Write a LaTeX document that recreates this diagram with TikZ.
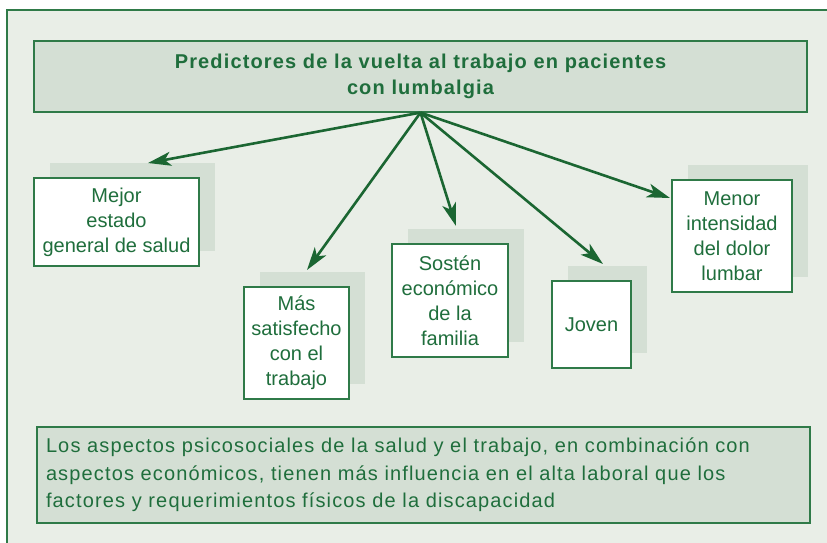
\documentclass[tikz,border=0pt]{standalone}
\usepackage{fontspec}
\setmainfont{Liberation Sans}
\newfontfamily\spacedfont[LetterSpace=5.7]{Liberation Sans}
\usetikzlibrary{arrows.meta,shadows}

\definecolor{pagegreen}{HTML}{E9EEE7}
\definecolor{boxgreen}{HTML}{D4DFD4}
\definecolor{linegreen}{HTML}{2F7A48}
\definecolor{textgreen}{HTML}{1F6E3C}
\definecolor{arrowgreen}{HTML}{1B6632}

\tikzset{
  titlebox/.style={draw=linegreen, fill=boxgreen, line width=1.2pt,
    minimum width=773pt, minimum height=71pt, align=center,
    text=textgreen, font=\spacedfont\fontsize{20}{26}\selectfont\bfseries},
  factor/.style={draw=linegreen, fill=white, line width=1.2pt, inner sep=0pt,
    align=center, text=textgreen, font=\fontsize{20}{25}\selectfont,
    general shadow={fill=boxgreen, shadow xshift=15.5pt, shadow yshift=15pt}},
  notebox/.style={draw=linegreen, fill=boxgreen, line width=1.2pt,
    minimum width=773pt, minimum height=96pt, inner xsep=9pt,
    text width=755pt, align=left, text=textgreen,
    font=\spacedfont\fontsize{20}{27.5}\selectfont},
  arr/.style={draw=arrowgreen, line width=2.6pt,
    -{Stealth[length=23pt,width=14pt,inset=6pt]}},
}

\begin{document}
\begin{tikzpicture}[x=1pt,y=-1pt]
    \useasboundingbox (0,0) rectangle (827,542);
    % page frame
    \fill[pagegreen] (7,10) rectangle (850,560);
    \draw[linegreen, line width=1.2pt] (7,560) -- (7,10) -- (850,10);

    \node[titlebox] (title) at (420.5,76.5) {Predictores de la vuelta al trabajo en pacientes\\con lumbalgia};

    % predictors
    \node[factor, minimum width=165pt, minimum height=88pt] (salud) at (116.5,222) {Mejor\\estado\\general de salud};
    \node[factor, minimum width=105pt, minimum height=112pt] (satisf) at (296.5,343) {Más\\satisfecho\\con el\\trabajo};
    \node[factor, minimum width=116pt, minimum height=113pt] (sosten) at (450,300.5) {Sostén\\económico\\de la\\familia};
    \node[factor, minimum width=79pt, minimum height=87pt] (joven) at (591.5,324.5) {Joven};
    \node[factor, minimum width=120pt, minimum height=112pt] (dolor) at (732,236) {Menor\\intensidad\\del dolor\\lumbar};

    \coordinate (tipsalud) at (148,163);
    \coordinate (tipsatisf) at (307,270);
    \coordinate (tipsosten) at (456,226);
    \coordinate (tipjoven) at (603,264);
    \coordinate (tipdolor) at (670,198);

    \draw[arr] (title.south) -- (tipsalud);
    \draw[arr] (title.south) -- (tipsatisf);
    \draw[arr] (title.south) -- (tipsosten);
    \draw[arr] (title.south) -- (tipjoven);
    \draw[arr] (title.south) -- (tipdolor);

    \node[notebox] (nota) at (423.5,475) {Los aspectos psicosociales de la salud y el trabajo, en combinación con\\aspectos económicos, tienen más influencia en el alta laboral que los\\factores y requerimientos físicos de la discapacidad};
\end{tikzpicture}
\end{document}
